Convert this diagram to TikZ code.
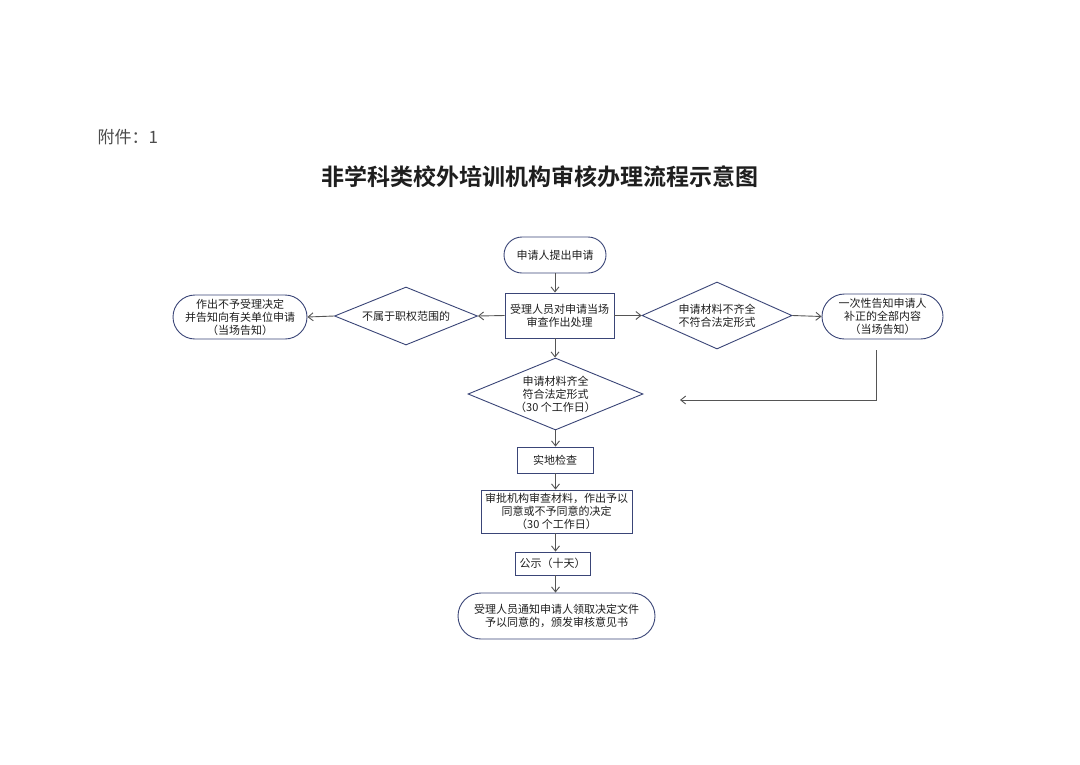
\documentclass[tikz,border=0pt]{standalone}
\usepackage{fontspec}
\setmainfont{Noto Sans CJK SC}
\newfontfamily\cjk{Noto Sans CJK SC}
\newfontfamily\cjkbold{Noto Sans CJK SC Bold}
\usetikzlibrary{shapes.geometric,shapes.misc,arrows.meta}
\definecolor{edgeblue}{HTML}{3A4577}
\definecolor{linegray}{HTML}{555555}
\definecolor{txt}{HTML}{1E1E1E}
\tikzset{
  base/.style={draw=edgeblue, line width=0.9pt, text=txt, font=\cjk\fontsize{11}{13}\selectfont, align=center, inner sep=0pt},
  stadium/.style={base, rounded rectangle},
  pbox/.style={base, rectangle},
  dia/.style={base, diamond},
  conn/.style={draw=linegray, line width=0.9pt, -{Straight Barb[length=5pt,width=8pt]}},
}
\begin{document}
\begin{tikzpicture}[x=1pt,y=-1pt]
\useasboundingbox (0,0) rectangle (1080,764);
\fill[white] (0,0) rectangle (1080,764);

\node[anchor=west, text=black!70, font=\cjk\fontsize{17}{19}\selectfont] (att) at (94,137) {附件：1};
\node[text=txt, font=\cjkbold\fontsize{23}{26}\selectfont] (title) at (540,177) {非学科类校外培训机构审核办理流程示意图};

\node[stadium, minimum width=102pt, minimum height=36pt] (start) at (555,255) {申请人提出申请};
\node[pbox, minimum width=109pt, minimum height=45pt] (box1) at (559.5,315.5) {受理人员对申请当场\\审查作出处理};
\node[dia, aspect=2.46, minimum width=143pt, minimum height=58pt] (ldia) at (406,316) {不属于职权范围的};
\node[stadium, minimum width=134pt, minimum height=44pt] (lround) at (240,317) {作出不予受理决定\\并告知向有关单位申请\\（当场告知）};
\node[dia, aspect=2.24, minimum width=150pt, minimum height=67pt] (rdia) at (717,315.5) {申请材料不齐全\\不符合法定形式};
\node[stadium, minimum width=121pt, minimum height=45pt] (rround) at (882.5,316.5) {一次性告知申请人\\补正的全部内容\\（当场告知）};
\node[dia, aspect=2.43, minimum width=175pt, minimum height=72pt] (mdia) at (555.5,394) {申请材料齐全\\符合法定形式\\（30 个工作日）};
\node[pbox, minimum width=76pt, minimum height=26pt] (check) at (555,460) {实地检查};
\node[pbox, minimum width=151pt, minimum height=43pt] (appr) at (556.5,511.5) {审批机构审查材料，作出予以\\同意或不予同意的决定\\（30 个工作日）};
\node[pbox, minimum width=75pt, minimum height=23pt] (pub) at (552.5,563.5) {公示（十天）};
\node[stadium, minimum width=197pt, minimum height=46pt] (final) at (556.5,616) {受理人员通知申请人领取决定文件\\予以同意的，颁发审核意见书};

\coordinate (c1) at (876,350);
\coordinate (c2) at (680,400);

\draw[conn] (start.south) -- (start.south |- box1.north);
\draw[conn] (box1.west) -- (ldia.east);
\draw[conn] (ldia.west) -- (lround.east);
\draw[conn] (box1.east) -- (rdia.west);
\draw[conn] (rdia.east) -- (rround.west);
\draw[conn] (start.south |- box1.south) -- (start.south |- mdia.north);
\draw[conn] (c1) |- (c2);
\draw[conn] (mdia.south) -- (mdia.south |- check.north);
\draw[conn] (mdia.south |- check.south) -- (mdia.south |- appr.north);
\draw[conn] (mdia.south |- appr.south) -- (mdia.south |- pub.north);
\draw[conn] (mdia.south |- pub.south) -- (mdia.south |- final.north);
\end{tikzpicture}
\end{document}
